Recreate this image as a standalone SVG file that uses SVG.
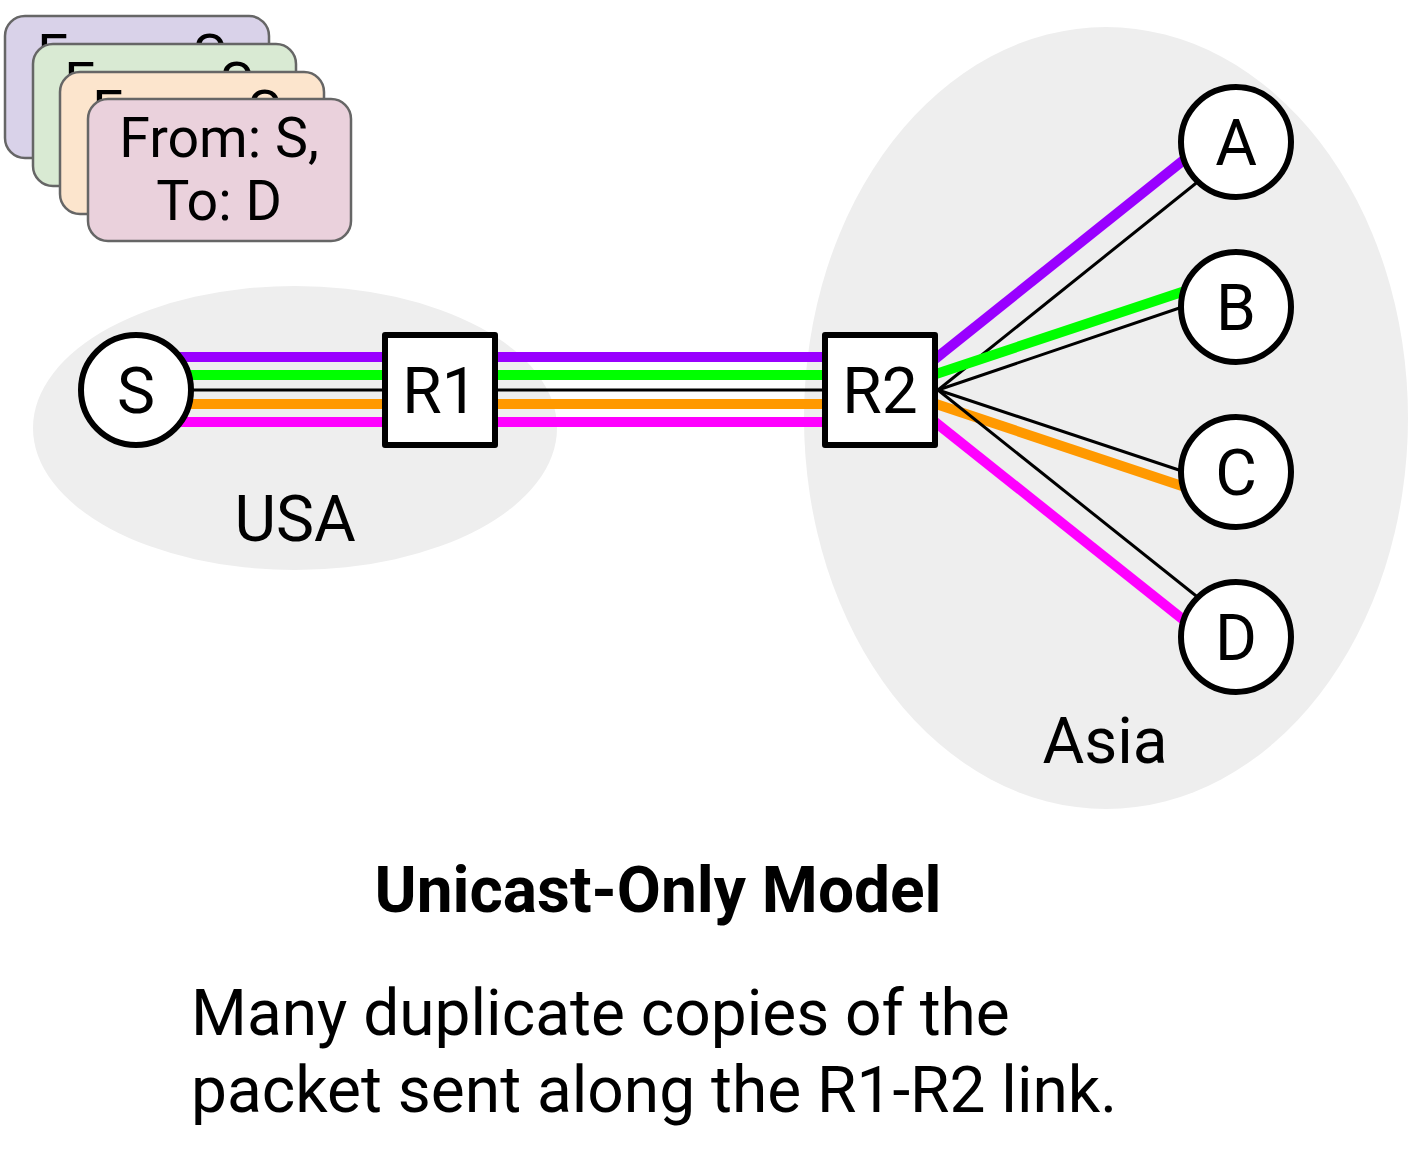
<svg xmlns="http://www.w3.org/2000/svg" width="1411" height="1168" viewBox="0 0 1411 1168">
<style>
.region{fill:#eeeeee;stroke:none}
.card{stroke:#666666;stroke-width:2.5}
.node{fill:#ffffff;stroke:#000000;stroke-width:6;stroke-linejoin:round}
.lbl{font-family:Roboto,"Liberation Sans",sans-serif;font-size:64px;fill:#000000;text-anchor:middle}
.ctext{font-family:Roboto,"Liberation Sans",sans-serif;font-size:55.5px;fill:#000000;text-anchor:middle}
.thick{stroke-width:10;fill:none}
.thin{stroke:#000000;stroke-width:3;fill:none}
.pu{stroke:#9900ff}.gr{stroke:#00ff00}.or{stroke:#ff9900}.ma{stroke:#ff00ff}
</style>
<rect width="1411" height="1168" fill="#ffffff"/>
<g id="regions">
<ellipse class="region" cx="295" cy="428" rx="262" ry="142"/>
<ellipse class="region" cx="1106" cy="418" rx="302" ry="391"/>
</g>
<g id="packets">
<g id="packet1">
<rect class="card" x="5" y="16" width="264" height="142" rx="20" fill="#d9d2e9"/>
<text class="ctext" x="137" y="74">From: S,</text>
</g>
<g id="packet2">
<rect class="card" x="33" y="44" width="263" height="142" rx="20" fill="#d9ead3"/>
<text class="ctext" x="164" y="102">From: S,</text>
</g>
<g id="packet3">
<rect class="card" x="60" y="72" width="264" height="142" rx="20" fill="#fce5cd"/>
<text class="ctext" x="192" y="130">From: S,</text>
</g>
<g id="packet4">
<rect class="card" x="88" y="99" width="263" height="142" rx="20" fill="#ead1dc"/>
<text class="ctext" x="219" y="157">From: S,</text>
<text class="ctext" x="219" y="220">To: D</text>
</g>
</g>
<g id="connectors">
<line class="thick pu" x1="136" y1="357" x2="880" y2="357"/>
<line class="thick gr" x1="136" y1="375" x2="880" y2="375"/>
<line class="thin" x1="136" y1="390" x2="880" y2="390"/>
<line class="thick or" x1="136" y1="404" x2="880" y2="404"/>
<line class="thick ma" x1="136" y1="422" x2="880" y2="422"/>
<line class="thick pu" x1="930" y1="363" x2="1200" y2="147"/>
<line class="thin" x1="938" y1="390" x2="1205" y2="176"/>
<line class="thick gr" x1="930" y1="376" x2="1200" y2="286"/>
<line class="thin" x1="938" y1="390" x2="1200" y2="301"/>
<line class="thin" x1="938" y1="390" x2="1200" y2="477"/>
<line class="thick or" x1="930" y1="402" x2="1200" y2="492"/>
<line class="thin" x1="938" y1="390" x2="1205" y2="603"/>
<line class="thick ma" x1="930" y1="418" x2="1200" y2="633"/>
</g>
<g id="S"><circle class="node" cx="136" cy="390" r="55"/><text class="lbl" x="136" y="413">S</text></g>
<g id="R1"><rect class="node" x="385" y="335" width="110" height="110"/><text class="lbl" x="440" y="413">R1</text></g>
<g id="R2"><rect class="node" x="825" y="335" width="110" height="110"/><text class="lbl" x="880" y="413">R2</text></g>
<g id="A"><circle class="node" cx="1236" cy="142" r="55"/><text class="lbl" x="1236" y="165">A</text></g>
<g id="B"><circle class="node" cx="1236" cy="307" r="55"/><text class="lbl" x="1236" y="330">B</text></g>
<g id="C"><circle class="node" cx="1236" cy="472" r="55"/><text class="lbl" x="1236" y="495">C</text></g>
<g id="D"><circle class="node" cx="1236" cy="637" r="55"/><text class="lbl" x="1236" y="660">D</text></g>
<g id="labels">
<text class="lbl" x="295" y="541">USA</text>
<text class="lbl" x="1105" y="763">Asia</text>
<text x="658" y="912" font-family="Roboto,'Liberation Sans',sans-serif" font-size="64" font-weight="bold" text-anchor="middle">Unicast-Only Model</text>
<text x="191" y="1035" font-family="Roboto,'Liberation Sans',sans-serif" font-size="64">Many duplicate copies of the</text>
<text x="191" y="1112" font-family="Roboto,'Liberation Sans',sans-serif" font-size="64">packet sent along the R1-R2 link.</text>
</g>
</svg>
